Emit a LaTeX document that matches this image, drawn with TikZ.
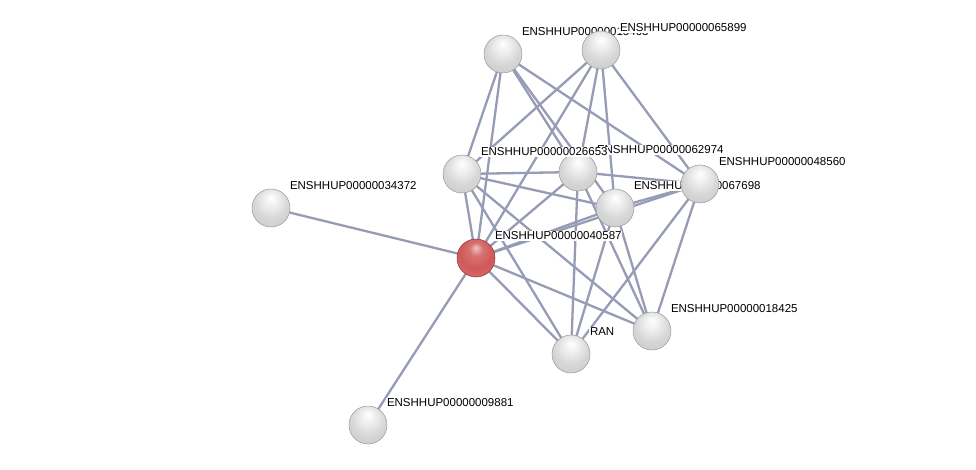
\documentclass[tikz,border=0pt]{standalone}
\usepackage{fontspec}
\setmainfont{Liberation Sans}
\definecolor{edgec}{RGB}{150,155,182}
\definecolor{redball}{RGB}{208,88,88}
\pgfdeclareradialshading{greysphere}{\pgfpoint{0bp}{14bp}}{color(0bp)=(white); color(9bp)=(gray!12); color(22bp)=(gray!32); color(34bp)=(gray!40); color(42bp)=(gray!58); color(50bp)=(gray!85)}
\pgfdeclareradialshading{redsphere}{\pgfpoint{0bp}{14bp}}{color(0bp)=(redball!35!white); color(9bp)=(redball!85!white); color(22bp)=(redball); color(34bp)=(redball!85!white); color(42bp)=(redball!85!black); color(50bp)=(redball!55!black)}
\tikzset{
  ball/.style={circle, minimum size=38pt, inner sep=0pt, shading=greysphere, draw=gray!80, line width=0.5pt},
  redb/.style={ball, shading=redsphere, draw=red!45!black!80},
  lab/.style={anchor=west, fill=white, inner sep=0.8pt, font=\fontsize{11.5}{12}\selectfont, text=black},
  edge/.style={draw=edgec, line width=2.3pt}
}
\begin{document}
\begin{tikzpicture}[x=1pt,y=-1pt]
\useasboundingbox[fill=white] (0,0) rectangle (976,470);
% node coordinates
\coordinate (c1) at (503,54);
\coordinate (c2) at (601,50);
\coordinate (c3) at (462,174);
\coordinate (c4) at (578,172);
\coordinate (c5) at (700,184);
\coordinate (c6) at (615,208);
\coordinate (c7) at (476,258);
\coordinate (c8) at (271,208);
\coordinate (c9) at (571,354);
\coordinate (c10) at (652,331);
\coordinate (c11) at (368,425);
% edges
\foreach \a/\b in {8/7,7/11,1/3,1/7,1/4,1/6,1/5,2/3,2/7,2/4,2/6,2/5,3/4,3/6,3/7,3/9,3/10,4/5,4/7,4/9,4/10,5/6,5/7,5/9,5/10,6/7,6/9,6/10,7/9,7/10}
  \draw[edge] (c\a) -- (c\b);
% nodes and labels
\node[ball] (n8) at (c8) {};
\node[lab] (l8) at ([shift={(18,-22)}]c8) {ENSHHUP00000034372};
\node[ball] (n11) at (c11) {};
\node[lab] (l11) at ([shift={(18,-22)}]c11) {ENSHHUP00000009881};
\node[ball] (n1) at (c1) {};
\node[lab] (l1) at ([shift={(18,-22)}]c1) {ENSHHUP00000015403};
\node[ball] (n2) at (c2) {};
\node[lab] (l2) at ([shift={(18,-22)}]c2) {ENSHHUP00000065899};
\node[ball] (n4) at (c4) {};
\node[lab] (l4) at ([shift={(18,-22)}]c4) {ENSHHUP00000062974};
\node[ball] (n3) at (c3) {};
\node[lab] (l3) at ([shift={(18,-22)}]c3) {ENSHHUP00000026653};
\node[ball] (n6) at (c6) {};
\node[lab] (l6) at ([shift={(18,-22)}]c6) {ENSHHUP00000067698};
\node[ball] (n5) at (c5) {};
\node[lab] (l5) at ([shift={(18,-22)}]c5) {ENSHHUP00000048560};
\node[redb] (n7) at (c7) {};
\node[lab] (l7) at ([shift={(18,-22)}]c7) {ENSHHUP00000040587};
\node[ball] (n9) at (c9) {};
\node[lab] (l9) at ([shift={(18,-22)}]c9) {RAN};
\node[ball] (n10) at (c10) {};
\node[lab] (l10) at ([shift={(18,-22)}]c10) {ENSHHUP00000018425};
\end{tikzpicture}
\end{document}
